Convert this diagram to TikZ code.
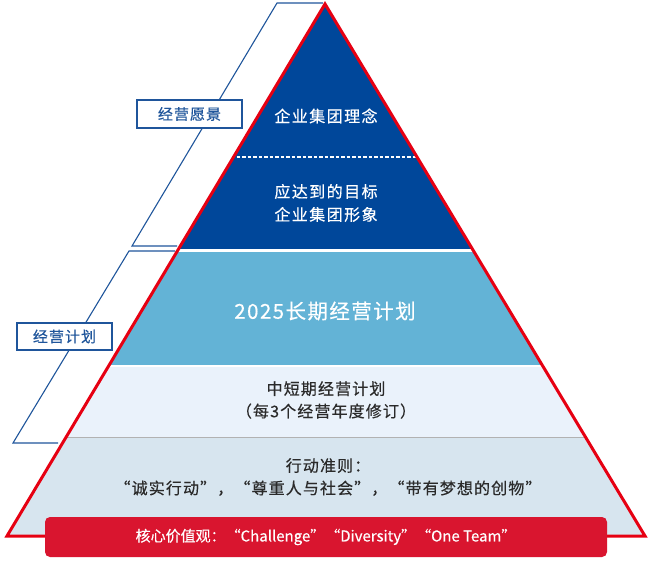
\documentclass[tikz,border=0pt]{standalone}
\usepackage{fontspec}
\setmainfont{Noto Sans CJK SC}
\newfontfamily\cjk{Noto Sans CJK SC}[LetterSpace=7, FakeBold=0.4]
\newfontfamily\cjkwide{Noto Sans CJK SC}[LetterSpace=9, FakeBold=0.4]
\newfontfamily\cjkplain{Noto Sans CJK SC}[FakeBold=0.4]
\definecolor{darkblue}{HTML}{00479A}
\definecolor{midblue}{HTML}{63B3D6}
\definecolor{paleblue}{HTML}{EAF2FB}
\definecolor{greyblue}{HTML}{D7E5EF}
\definecolor{outlinered}{HTML}{E60012}
\definecolor{barred}{HTML}{D9152F}
\definecolor{labelblue}{HTML}{1F559B}
\definecolor{txt}{HTML}{2A2A2A}
\tikzset{
  redline/.style={draw=outlinered, line width=3pt, line join=miter},
  bracket/.style={draw=labelblue, line width=1.1pt},
  labelbox/.style={draw=labelblue, line width=1.1pt, fill=white, minimum width=105pt, minimum height=28pt, inner sep=0pt, text=labelblue, font=\cjk\fontsize{15}{18}\selectfont},
  whitetext/.style={text=white, inner sep=0pt, align=center, font=\cjkwide\fontsize{16}{23}\selectfont},
  darktext/.style={text=txt, inner sep=0pt, align=center, font=\cjk\fontsize{16}{22.5}\selectfont},
  bigtext/.style={text=white, inner sep=0pt, font=\cjk\fontsize{20.5}{24}\selectfont},
  bar/.style={fill=barred, rounded corners=5pt, minimum width=562pt, minimum height=40pt, inner sep=0pt, text=white, font=\cjkplain\fontsize{15}{18}\selectfont}
}
\begin{document}
\begin{tikzpicture}[x=1pt,y=-1pt]
\useasboundingbox (0,0) rectangle (651,564);
\coordinate (apex) at (325,4);
\coordinate (bl) at (7,536);
\coordinate (br) at (645,536);
\begin{scope}
  \clip (apex) -- (bl) -- (br) -- cycle;
  \fill[darkblue] (0,0) rectangle (651,249);
  \fill[midblue] (0,252) rectangle (651,364.5);
  \fill[paleblue] (0,366.5) rectangle (651,437);
  \fill[greyblue] (0,438) rectangle (651,545);
  \draw[gray!60, line width=1pt] (0,437.5) -- (651,437.5);
  \draw[white, line width=1.6pt, dash pattern=on 3.5pt off 2pt] (0,157) -- (651,157);
\end{scope}
\draw[redline] (apex) -- (bl) -- (br) -- cycle;
% brackets
\draw[bracket] (323,3) -- (277,3) -- (132,246) -- (177,246);
\draw[bracket] (175,251) -- (129,251) -- (13,443) -- (58,443);
\node[labelbox] (vision) at (189.5,114) {经营愿景};
\node[labelbox, minimum width=95pt, minimum height=27pt] (plan) at (64.5,336.5) {经营计划};
% texts
\node[whitetext] (philo) at (326,116) {企业集团理念};
\node[whitetext] (image) at (326,203) {应达到的目标\\企业集团形象};
\node[bigtext] (long) at (325,311) {2025长期经营计划};
\node[darktext] (mid) at (326,400) {中短期经营计划\\（每3个经营年度修订）};
\node[darktext] (rules) at (328,477) {行动准则：\\“诚实行动”，“尊重人与社会”，“带有梦想的创物”};
\node[bar] (values) at (326,537) {核心价值观：“Challenge”“Diversity”“One Team”};
\end{tikzpicture}
\end{document}
